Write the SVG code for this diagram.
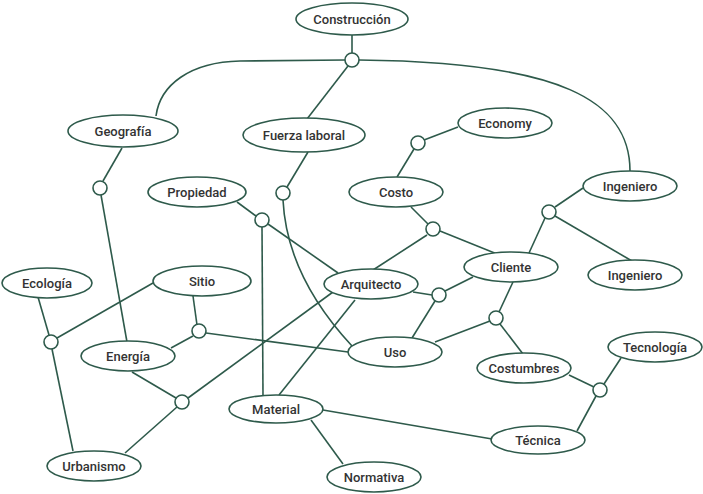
<svg xmlns="http://www.w3.org/2000/svg" width="703" height="494" viewBox="0 0 703 494">
<style>
.e{fill:#fff;stroke:#2e5a4b;stroke-width:1.6}
.j{fill:#fff;stroke:#2e5a4b;stroke-width:1.6}
.c{fill:none;stroke:#2e5a4b;stroke-width:1.6}
text{font-family:Roboto,"Liberation Sans",sans-serif;font-size:13px;font-weight:500;fill:#333;text-anchor:middle}
</style>
<rect width="703" height="494" fill="#fff"/>
<g id="connectors">
<path class="c" d="M352,35 L352,53"/>
<path class="c" d="M345,60 L240,61 C190,62 160,85 156,116"/>
<path class="c" d="M359,60 C560,62 630,100 630,171"/>
<path class="c" d="M348,66 L307,119"/>
<path class="c" d="M308,152 L287,187"/>
<path class="c" d="M283,200 C285,240 300,290 352,346"/>
<path class="c" d="M458,127 L424,140"/>
<path class="c" d="M414,149 L397,177"/>
<path class="c" d="M411,207 L428,224"/>
<path class="c" d="M440,231 L502,256"/>
<path class="c" d="M427,235 L373,270"/>
<path class="c" d="M583,188 L555,207"/>
<path class="c" d="M545,218 L529,253"/>
<path class="c" d="M555,216 L632,261"/>
<path class="c" d="M413,292 L432,295"/>
<path class="c" d="M445,291 L473,277"/>
<path class="c" d="M435,301 L412,338"/>
<path class="c" d="M513,282 L499,312"/>
<path class="c" d="M490,321 L435,342"/>
<path class="c" d="M500,324 L523,354"/>
<path class="c" d="M569,375 L594,387"/>
<path class="c" d="M604,384 L621,358"/>
<path class="c" d="M596,396 L577,431"/>
<path class="c" d="M323,410 L492,439"/>
<path class="c" d="M311,420 L343,464"/>
<path class="c" d="M237,202 L256,216"/>
<path class="c" d="M268,224 L338,273"/>
<path class="c" d="M262,227 L263,395"/>
<path class="c" d="M355,300 L279,395"/>
<path class="c" d="M333,292 L188,398"/>
<path class="c" d="M132,372 L176,398"/>
<path class="c" d="M177,407 L125,453"/>
<path class="c" d="M38,297 L49,335"/>
<path class="c" d="M57,338 L153,283"/>
<path class="c" d="M52,349 L73,451"/>
<path class="c" d="M193,296 L197,325"/>
<path class="c" d="M193,336 L171,348"/>
<path class="c" d="M206,333 L348,352"/>
<path class="c" d="M122,148 L103,181"/>
<path class="c" d="M101,195 L127,342"/>
</g>
<g id="junctions">
<circle class="j" cx="352" cy="60" r="7"/>
<circle class="j" cx="283" cy="193" r="7"/>
<circle class="j" cx="418" cy="143" r="7"/>
<circle class="j" cx="433" cy="229" r="7"/>
<circle class="j" cx="549" cy="212" r="7"/>
<circle class="j" cx="439" cy="295" r="7"/>
<circle class="j" cx="496" cy="318" r="7"/>
<circle class="j" cx="600" cy="390" r="7"/>
<circle class="j" cx="262" cy="220" r="7"/>
<circle class="j" cx="182" cy="402" r="7"/>
<circle class="j" cx="51" cy="342" r="7"/>
<circle class="j" cx="199" cy="331" r="7"/>
<circle class="j" cx="100" cy="188" r="7"/>
</g>
<g id="construccion"><ellipse class="e" cx="352" cy="19" rx="56" ry="16"/><text x="352" y="24">Construcción</text></g>
<g id="geografia"><ellipse class="e" cx="123" cy="131" rx="55" ry="16"/><text x="123" y="136">Geografía</text></g>
<g id="fuerza-laboral"><ellipse class="e" cx="304" cy="135" rx="61" ry="17"/><text x="304" y="140">Fuerza laboral</text></g>
<g id="economy"><ellipse class="e" cx="505" cy="123" rx="47" ry="15"/><text x="505" y="128">Economy</text></g>
<g id="propiedad"><ellipse class="e" cx="197" cy="192" rx="49" ry="15"/><text x="197" y="197">Propiedad</text></g>
<g id="costo"><ellipse class="e" cx="396" cy="192" rx="47" ry="15"/><text x="396" y="197">Costo</text></g>
<g id="ingeniero-1"><ellipse class="e" cx="630" cy="186" rx="47" ry="15"/><text x="630" y="191">Ingeniero</text></g>
<g id="cliente"><ellipse class="e" cx="511" cy="267" rx="47" ry="15"/><text x="511" y="272">Cliente</text></g>
<g id="ingeniero-2"><ellipse class="e" cx="635" cy="275" rx="47" ry="15"/><text x="635" y="280">Ingeniero</text></g>
<g id="ecologia"><ellipse class="e" cx="47" cy="283" rx="45" ry="15"/><text x="47" y="288">Ecología</text></g>
<g id="sitio"><ellipse class="e" cx="202" cy="281" rx="49" ry="15"/><text x="202" y="286">Sitio</text></g>
<g id="arquitecto"><ellipse class="e" cx="371" cy="284" rx="47" ry="15"/><text x="371" y="289">Arquitecto</text></g>
<g id="energia"><ellipse class="e" cx="128" cy="356" rx="47" ry="15"/><text x="128" y="361">Energía</text></g>
<g id="uso"><ellipse class="e" cx="395" cy="352" rx="47" ry="15"/><text x="395" y="357">Uso</text></g>
<g id="tecnologia"><ellipse class="e" cx="655" cy="347" rx="47" ry="15"/><text x="655" y="352">Tecnología</text></g>
<g id="costumbres"><ellipse class="e" cx="524" cy="368" rx="47" ry="15"/><text x="524" y="373">Costumbres</text></g>
<g id="material"><ellipse class="e" cx="276" cy="409" rx="47" ry="14"/><text x="276" y="414">Material</text></g>
<g id="tecnica"><ellipse class="e" cx="538" cy="440" rx="47" ry="14"/><text x="538" y="445">Técnica</text></g>
<g id="urbanismo"><ellipse class="e" cx="94" cy="466" rx="47" ry="15"/><text x="94" y="471">Urbanismo</text></g>
<g id="normativa"><ellipse class="e" cx="374" cy="477" rx="47" ry="15"/><text x="374" y="482">Normativa</text></g>
</svg>
